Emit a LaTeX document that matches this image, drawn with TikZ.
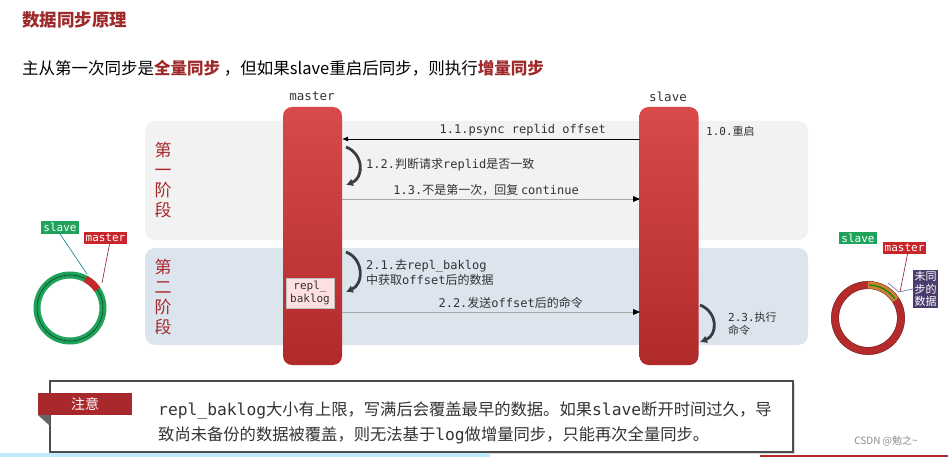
\documentclass[tikz,border=0pt]{standalone}
\usepackage{fontspec}
\setmainfont{Noto Sans CJK SC}
\newfontfamily\monof{DejaVu Sans Mono}
\usetikzlibrary{arrows.meta,shadows}
\newcommand\mo[1]{{\monof #1}}
\definecolor{titlered}{HTML}{9E2A2B}
\definecolor{phred}{HTML}{A8282C}
\definecolor{barTop}{HTML}{D94A4A}
\definecolor{barBot}{HTML}{B02A2A}
\definecolor{ph1c}{HTML}{F2F2F2}
\definecolor{ph2c}{HTML}{DCE4EE}
\definecolor{curvec}{HTML}{383D42}
\definecolor{txt}{HTML}{333333}
\definecolor{ringgreen}{HTML}{1FA35B}
\definecolor{ringred}{HTML}{B52A2A}
\definecolor{tagred}{HTML}{C8262B}
\definecolor{purp}{HTML}{4B3C6E}
\tikzset{
  phasebox/.style={rounded corners=10pt, minimum width=663pt, inner sep=0pt},
  bar/.style={rounded corners=9pt, minimum width=59pt, minimum height=258pt, top color=barTop, bottom color=barBot, inner sep=0pt},
  phaselbl/.style={text=phred, font=\fontsize{17}{20}\selectfont, align=center},
  lbl/.style={text=txt, font=\fontsize{12}{15}\selectfont, inner sep=1pt},
  smlbl/.style={text=txt, font=\fontsize{11}{13.5}\selectfont, inner sep=1pt, align=left},
  msg/.style={line width=0.9pt, -{Latex[length=6pt,width=5pt]}},
  curvearrow/.style={line width=2.8pt, draw=curvec, -{Latex[length=7pt,width=8pt]}},
  tag/.style={font=\monof\fontsize{11}{12}\selectfont, text=white, inner sep=2pt},
}
\begin{document}
\begin{tikzpicture}[x=1pt,y=-1pt]
\useasboundingbox (0,0) rectangle (948,457);
\fill[white] (0,0) rectangle (948,457);

% title
\node[anchor=west, inner sep=0pt, text=titlered, font=\fontsize{17.5}{21}\selectfont\bfseries] (title) at (22,20) {数据同步原理};
\node[anchor=west, inner sep=0pt, text=black, font=\fontsize{16.5}{19}\selectfont] (sub) at (22,68)
  {主从第一次同步是\textcolor{titlered}{\bfseries 全量同步} ，但如果slave重启后同步，则执行\textcolor{titlered}{\bfseries 增量同步}};

% phase boxes
\node[phasebox, fill=ph1c, minimum height=119pt] (ph1) at (476.5,180.5) {};
\node[phasebox, fill=ph2c, minimum height=97pt] (ph2) at (476.5,296.5) {};
\node[phaselbl] (ph1l) at (163,180) {第\\一\\阶\\段};
\node[phaselbl] (ph2l) at (163,297) {第\\二\\阶\\段};

% bars
\node[bar] (master) at (312.5,236) {};
\node[bar] (slave) at (669,236) {};
\node[text=txt, font=\monof\fontsize{12.5}{14}\selectfont, inner sep=0pt] (masterl) at (312,96) {master};
\node[text=txt, font=\monof\fontsize{12.5}{14}\selectfont, inner sep=0pt] (slavel) at (668,97) {slave};

% coordinates on bars
\coordinate (s11) at (640,139);
\coordinate (m11) at (342,139);
\coordinate (m13) at (342,199);
\coordinate (s13) at (640,199);
\coordinate (m22) at (342,312);
\coordinate (s22) at (640,312);
\coordinate (c12a) at (346,147);
\coordinate (c12b) at (346,185);
\coordinate (c21a) at (346,252);
\coordinate (c21b) at (346,292);
\coordinate (c23a) at (700,305);
\coordinate (c23b) at (700,342);

% messages
\draw[msg, draw=black] (s11) -- (m11);
\node[lbl, anchor=south east] (l11) at (607,137) {\mo{1.1.psync replid offset}};
\node[smlbl, anchor=west] (l10) at (705,131) {\mo{1.0.}重启};

\draw[curvearrow] (c12a) .. controls (364,154) and (364,178) .. (c12b);
\node[lbl, anchor=west] (l12) at (365,165) {\mo{1.2.}判断请求\mo{replid}是否一致};

\draw[msg, draw=gray!70] (m13) -- (s13);
\fill[black] (s13) -- ++(-7,-3) -- ++(0,6) -- cycle;
\node[lbl, anchor=south east] (l13) at (580,197) {\mo{1.3.}不是第一次，回复 \mo{continue}};

\draw[curvearrow] (c21a) .. controls (364,259) and (364,284) .. (c21b);
\node[lbl, anchor=west, align=left] (l21) at (365,272) {\mo{2.1.}去\mo{repl\_baklog}\\中获取\mo{offset}后的数据};

\node[draw=black!25, fill=red!12!white, drop shadow={opacity=0.35, shadow xshift=1pt, shadow yshift=-1pt}, minimum width=48pt, minimum height=30pt, inner sep=0pt, align=center, font=\monof\fontsize{11}{12.5}\selectfont, text=txt] (rb) at (310,293) {repl\_\\baklog};

\draw[msg, draw=gray!70] (m22) -- (s22);
\fill[black] (s22) -- ++(-7,-3) -- ++(0,6) -- cycle;
\node[lbl, anchor=south east] (l22) at (584,310) {\mo{2.2.}发送\mo{offset}后的命令};

\draw[curvearrow] (c23a) .. controls (718,312) and (718,335) .. (c23b);
\node[smlbl, anchor=west] (l23) at (727,324) {\mo{2.3.}执行\\命令};

% left ring
\draw[ringgreen, line width=7pt] (70,308) circle (33);
\draw[ringgreen!40!black, line width=0.6pt] (70,308) circle (33);
\draw[tagred, line width=7pt] (70,308) ++(-34:33) arc[start angle=-34, end angle=-62, radius=33];
\node[tag, fill=ringgreen] (lslave) at (60,227.5) {slave};
\node[tag, fill=tagred] (lmaster) at (105.5,238) {master};
\coordinate (lsp) at (87,274);
\coordinate (lmp) at (102,283);
\draw[teal, line width=0.6pt] (lslave.south) -- (lsp);
\draw[tagred!70!black, line width=0.6pt] (lmaster.south) ++(4,0) -- (lmp);

% right ring
\draw[ringred, line width=7.5pt] (868,318) circle (33);
\draw[ringred!60!black, line width=0.4pt] (868,318) circle (36.7);
\draw[ringred!60!black, line width=0.4pt] (868,318) circle (29.3);
\draw[brown!80!orange, line width=7pt] (868,318) ++(-33:33) arc[start angle=-33, end angle=-90, radius=33];
\draw[green!55!black, line width=1.2pt] (868,318) ++(-36:33) arc[start angle=-36, end angle=-88, radius=33];
\node[tag, fill=ringgreen] (rslave) at (858,238) {slave};
\node[tag, fill=tagred] (rmaster) at (904.5,248) {master};
\coordinate (rmp) at (900,292);
\draw[tagred!70!black, line width=0.6pt] (rmaster.south) ++(3,0) -- (rmp);
\node[fill=purp, text=white, inner sep=1.5pt, align=center, font=\fontsize{11}{12.5}\selectfont] (unsync) at (925.5,289) {未同\\步的\\数据};
\coordinate (cb1) at (888,283);
\coordinate (cb2) at (899,292);
\draw[black!45!blue!60, line width=0.6pt] (cb1) -- (cb2) -- (unsync.west);

% note box
\node[draw=black!70, line width=1.2pt, fill=white, minimum width=743pt, minimum height=71pt, drop shadow={opacity=0.3, shadow xshift=2pt, shadow yshift=-2pt}] (note) at (421.5,416.5) {};
\fill[black!60] (38,415) -- (50,415) -- (50,426) -- cycle;
\node[fill=phred, text=white, minimum width=94pt, minimum height=22pt, inner sep=0pt, font=\fontsize{14}{16}\selectfont] (tab) at (85,404) {注意};
\node[anchor=west, inner sep=0pt, text=txt, font=\fontsize{16.3}{25}\selectfont, align=left] (notetext) at (158,422.5)
 {\mo{repl\_baklog}大小有上限，写满后会覆盖最早的数据。如果\mo{slave}断开时间过久，导\\致尚未备份的数据被覆盖，则无法基于\mo{log}做增量同步，只能再次全量同步。};

% watermark
\node[text=black!45, font=\fontsize{10}{12}\selectfont, inner sep=0pt] (wm) at (886,441) {CSDN @勉之\textasciitilde};

% bottom strips
\fill[cyan!25] (0,453) rectangle (490,457);
\fill[ringred] (760,455) rectangle (948,457);
\end{tikzpicture}
\end{document}
